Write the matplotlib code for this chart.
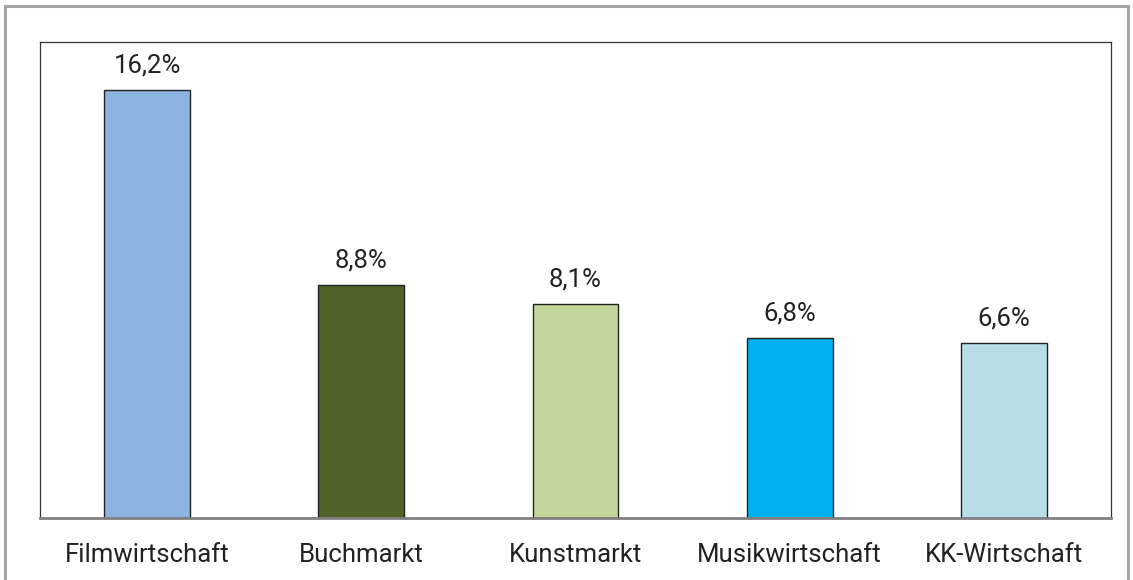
import matplotlib
matplotlib.use('Agg')
import matplotlib.pyplot as plt
from matplotlib.patches import Rectangle

categories = ['Filmwirtschaft', 'Buchmarkt', 'Kunstmarkt', 'Musikwirtschaft', 'KK-Wirtschaft']
values = [16.2, 8.8, 8.1, 6.8, 6.6]
labels = ['16,2%', '8,8%', '8,1%', '6,8%', '6,6%']
colors = ['#8DB3E2', '#4F6228', '#C3D69B', '#00B0F0', '#B7DDE8']

plt.rcParams['font.family'] = ['Roboto', 'DejaVu Sans']

fig = plt.figure(figsize=(11.33, 5.8), dpi=100)
ax = fig.add_axes([40 / 1133, 1 - 518 / 580, (1111 - 40) / 1133, (518 - 42) / 580])

x = range(len(categories))
bars = ax.bar(x, values, width=0.4, color=colors, edgecolor='#222222', linewidth=1)
for b, lab in zip(bars, labels):
    ax.annotate(lab, (b.get_x() + b.get_width() / 2, b.get_height()),
                xytext=(0, 9), textcoords='offset points',
                ha='center', va='bottom', fontsize=18.5, color='#222222')

ax.set_xlim(-0.5, len(categories) - 0.5)
ax.set_ylim(0, 18)
ax.set_yticks([])
ax.set_xticks(list(x))
ax.set_xticklabels(categories, fontsize=18.5, color='#222222')
ax.tick_params(axis='x', length=0, pad=18)

for s in ['left', 'top', 'right']:
    ax.spines[s].set_color('#333333')
    ax.spines[s].set_linewidth(0.9)
ax.spines['bottom'].set_color('#808080')
ax.spines['bottom'].set_linewidth(2)

# outer frame
fig.add_artist(Rectangle((5 / 1133, -0.1), (1128 - 5) / 1133, 1.1 - 6 / 580,
                         transform=fig.transFigure, fill=False,
                         edgecolor='#a6a6a6', linewidth=2.2))

fig.savefig('out.png', dpi=100)
